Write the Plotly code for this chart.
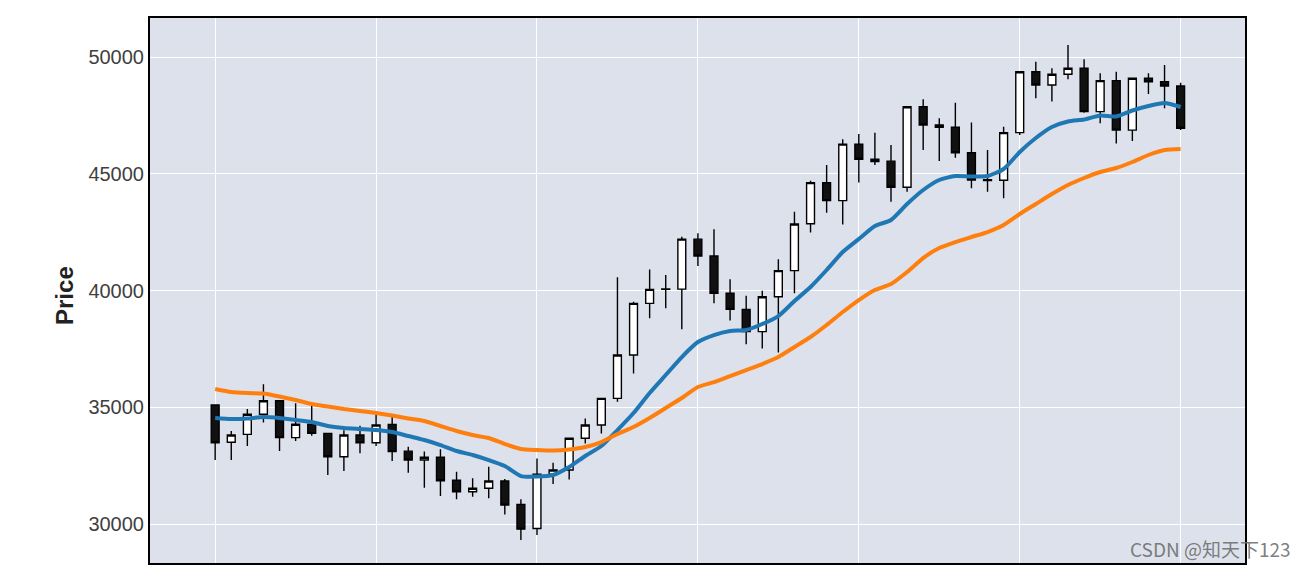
import plotly.graph_objects as go

# candle index (trading days)
idx = list(range(61))

opens = [35095, 33500, 33840, 34700, 35280, 33700, 34270, 33880, 32880, 33810,
         33480, 34260, 33120, 32740, 32860, 31880, 31380, 31530, 31840, 30840,
         29810, 32130, 32310, 33670, 34240, 35380, 37240, 39450, 40050, 40060,
         42200, 41480, 39880, 39190, 38240, 39730, 40850, 42860, 44620, 43850,
         46270, 45620, 45540, 44420, 47870, 47090, 46990, 45900, 44740, 44720,
         46760, 49370, 48800, 49260, 49520, 47660, 48990, 46870, 49090, 48940,
         48760]
highs = [35120, 33980, 34920, 35980, 35300, 35170, 35060, 33900, 34020, 34210,
         34670, 34600, 33310, 33100, 33200, 32240, 31960, 32450, 31930, 31060,
         32810, 32620, 33680, 34520, 35400, 40570, 39520, 40900, 40660, 42300,
         42450, 42620, 40480, 39780, 39990, 41340, 43370, 44700, 45370, 46480,
         46700, 46760, 46230, 47900, 48190, 47380, 48040, 47190, 46020, 47010,
         49400, 49800, 49520, 50510, 49900, 49300, 49370, 49110, 49300, 49660,
         48900]
lows = [32740, 32740, 33340, 34350, 33125, 33550, 33780, 32100, 32270, 33030,
        33340, 32700, 32200, 31550, 31200, 31060, 31170, 31100, 30410, 29310,
        29530, 31710, 31910, 33450, 33880, 35240, 36450, 38810, 39240, 38340,
        41050, 39450, 38710, 37700, 37520, 37340, 39880, 42480, 43330, 42830,
        44620, 45370, 43800, 44230, 46020, 45550, 45690, 44380, 44230, 43950,
        46660, 48230, 48090, 49050, 47610, 47160, 46300, 46400, 48420, 47800,
        46870]
closes = [33480, 33810, 34700, 35280, 33700, 34270, 33880, 32880, 33810, 33480,
          34240, 33100, 32740, 32860, 31850, 31380, 31530, 31840, 30810, 29780,
          32130, 32310, 33670, 34240, 35380, 37240, 39450, 40050, 40070, 42200,
          41480, 39880, 39190, 38240, 39730, 40850, 42850, 44620, 43850, 46270,
          45620, 45520, 44420, 47870, 47090, 46990, 45900, 44730, 44710, 46760,
          49370, 48800, 49260, 49520, 47660, 48990, 46870, 49090, 48940, 48760,
          46950]

ma_short = [34538, 34496, 34517, 34581, 34538, 34453, 34367, 34196, 34110, 34067,
            34024, 33939, 33767, 33596, 33382, 33125, 32954, 32740, 32483, 32054,
            32033, 32097, 32440, 32911, 33339, 34024, 34753, 35609, 36380, 37151,
            37793, 38093, 38265, 38307, 38564, 38907, 39549, 40149, 40877, 41648,
            42205, 42762, 43019, 43704, 44304, 44732, 44903, 44882, 44903, 45203,
            45931, 46531, 47002, 47237, 47323, 47494, 47452, 47709, 47901, 48030,
            47858]
ma_long = [35780, 35652, 35609, 35588, 35459, 35309, 35138, 35031, 34924, 34838,
           34753, 34645, 34517, 34410, 34196, 33982, 33810, 33682, 33425, 33211,
           33168, 33146, 33189, 33296, 33510, 33853, 34153, 34538, 34967, 35395,
           35866, 36080, 36337, 36594, 36851, 37151, 37579, 38008, 38522, 39078,
           39592, 40021, 40278, 40792, 41391, 41819, 42076, 42291, 42505, 42805,
           43276, 43704, 44132, 44518, 44818, 45075, 45246, 45503, 45803, 46017,
           46060]

y_ticks = [30000, 35000, 40000, 45000, 50000]
x_ticks = [0, 10, 20, 30, 40, 50, 60]

fig = go.Figure()
fig.add_trace(go.Candlestick(
    x=idx, open=opens, high=highs, low=lows, close=closes,
    increasing=dict(line=dict(color="black", width=1.4), fillcolor="white"),
    decreasing=dict(line=dict(color="black", width=1.4), fillcolor="#111111"),
    whiskerwidth=0, showlegend=False, hoverinfo="skip",
))
fig.add_trace(go.Scatter(x=idx, y=ma_short, mode="lines",
                         line=dict(color="#1f77b4", width=4, shape="spline",
                                   smoothing=0.6), showlegend=False))
fig.add_trace(go.Scatter(x=idx, y=ma_long, mode="lines",
                         line=dict(color="#ff7f0e", width=4, shape="spline",
                                   smoothing=0.6), showlegend=False))

fig.update_layout(
    width=1309, height=566,
    margin=dict(l=142, r=72, t=10, b=11, autoexpand=False),
    paper_bgcolor="white",
    plot_bgcolor="#dce1eb",
    boxgap=0.3,
    font=dict(family="Liberation Sans, Arial, sans-serif", color="#3a3a3a"),
    xaxis=dict(range=[-4.05, 64.0], tickvals=x_ticks, showticklabels=False,
               showgrid=True, gridcolor="white", gridwidth=1, zeroline=False,
               showline=True, linecolor="black", linewidth=2, mirror=True,
               rangeslider=dict(visible=False), ticks=""),
    yaxis=dict(range=[28330, 51670], tickvals=y_ticks,
               ticktext=[str(v) for v in y_ticks],
               tickfont=dict(size=20, color="#3f3f3f"),
               showgrid=True, gridcolor="white", gridwidth=1, zeroline=False,
               showline=True, linecolor="black", linewidth=2, mirror=True,
               ticks="", ticklen=0, ticklabelstandoff=0),
)

fig.add_annotation(text="<b>Price</b>", xref="paper", yref="paper",
                   x=-0.0776, y=0.49, xanchor="center", yanchor="middle",
                   textangle=-90, showarrow=False,
                   font=dict(size=24, color="#222222"))

fig.add_annotation(text="CSDN @知天下123", xref="paper", yref="paper",
                   x=1.044, y=0.026, xanchor="right", yanchor="middle",
                   showarrow=False,
                   font=dict(family="Noto Sans CJK SC, Noto Sans, sans-serif",
                             size=19, color="rgba(110,110,110,0.9)"))

fig.write_html("out.html")
